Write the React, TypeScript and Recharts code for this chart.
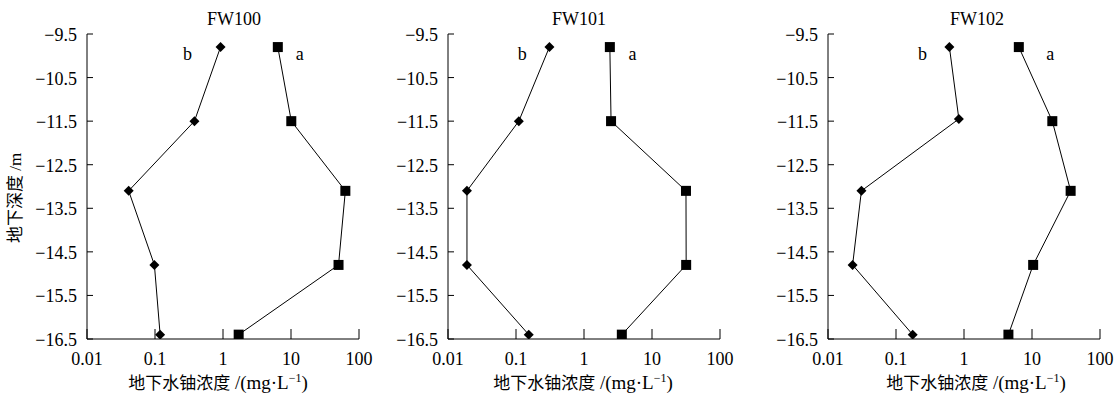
import React from 'react';
import { ScatterChart, Scatter, XAxis, YAxis } from 'recharts';

// ---- data ----
const panelTitles = ['FW100', 'FW101', 'FW102'];
const depthsA = [-9.8, -11.5, -13.1, -14.8, -16.4];
const depthsB = [
  [-9.8, -11.5, -13.1, -14.8, -16.4],
  [-9.8, -11.5, -13.1, -14.8, -16.4],
  [-9.8, -11.45, -13.1, -14.8, -16.4],
];
const seriesA = [
  [6.4, 10.1, 63, 50, 1.7],
  [2.4, 2.5, 31.6, 31.8, 3.6],
  [6.4, 19.9, 37, 10.4, 4.5],
];
const seriesB = [
  [0.92, 0.38, 0.041, 0.098, 0.119],
  [0.31, 0.11, 0.019, 0.019, 0.154],
  [0.61, 0.84, 0.031, 0.023, 0.176],
];
const labelAX = [13.4, 5.15, 18.6];
const labelBX = [0.3, 0.124, 0.246];
const labelY = -10.1;
const xTicks = [0.01, 0.1, 1, 10, 100];
const xTickLabels = ['0.01', '0.1', '1', '10', '100'];
const yTicks = [-9.5, -10.5, -11.5, -12.5, -13.5, -14.5, -15.5, -16.5];

const FONT = "'Liberation Serif', 'Times New Roman', 'Noto Sans CJK SC', serif";
const plotLefts = [87, 448, 828];
const titleX = [234, 579, 977];
const xLabelX = [218, 583, 976];
const FS = 18;

const Square = (p: any) => (
  <rect x={p.cx - 5} y={p.cy - 5} width={10} height={10} fill="#000" />
);
const Diamond = (p: any) => (
  <polygon
    points={`${p.cx},${p.cy - 5} ${p.cx + 5},${p.cy} ${p.cx},${p.cy + 5} ${p.cx - 5},${p.cy}`}
    fill="#000"
  />
);
const LabelShape = (p: any) => (
  <text x={p.cx} y={p.cy} textAnchor="middle" fontSize={FS} fontFamily={FONT} fill="#000">
    {p.payload.t}
  </text>
);

const Y_MARGIN = 10;
const X_MARGIN = 13;

const YTick = (p: any) => {
  const v: number = p.payload.value;
  const label = v.toFixed(1).replace('-', '\u2212');
  const ax = p.x + Y_MARGIN;
  return (
    <g>
      <line x1={ax} x2={ax + 6} y1={p.y} y2={p.y} stroke="#000" strokeWidth={1} />
      <text x={p.x} y={p.y + 7} textAnchor="end" fontSize={FS} fontFamily={FONT} fill="#000">
        {label}
      </text>
    </g>
  );
};

const XTick = (p: any) => {
  const v: number = p.payload.value;
  const idx = xTicks.indexOf(v);
  const label = idx >= 0 ? xTickLabels[idx] : String(v);
  const ay = p.y - X_MARGIN;
  return (
    <g>
      <line x1={p.x} x2={p.x} y1={ay} y2={ay - 10} stroke="#000" strokeWidth={1} />
      <text x={p.x} y={p.y + 13} textAnchor="middle" fontSize={FS} fontFamily={FONT} fill="#000">
        {label}
      </text>
    </g>
  );
};

function Panel({ i }: { i: number }) {
  const dataA = seriesA[i].map((x, k) => ({ x, y: depthsA[k] }));
  const dataB = seriesB[i].map((x, k) => ({ x, y: depthsB[i][k] }));
  const labels = [
    { x: labelBX[i], y: labelY, t: 'b' },
    { x: labelAX[i], y: labelY, t: 'a' },
  ];
  return (
    <div style={{ position: 'absolute', left: plotLefts[i] - 87, top: 0 }}>
      <ScatterChart
        width={380}
        height={396}
        margin={{ top: 34, right: 21, bottom: 27, left: 27 }}
      >
        <XAxis
          dataKey="x"
          type="number"
          scale="log"
          domain={[0.01, 100]}
          ticks={xTicks}
          allowDataOverflow
          interval={0}
          height={30}
          tickSize={0}
          tickMargin={X_MARGIN}
          tickLine={false}
          axisLine={{ stroke: '#000', strokeWidth: 1 }}
          tick={XTick}
        />
        <YAxis
          dataKey="y"
          type="number"
          domain={[-16.5, -9.5]}
          ticks={yTicks}
          allowDataOverflow
          interval={0}
          width={60}
          tickSize={0}
          tickMargin={Y_MARGIN}
          tickLine={false}
          axisLine={{ stroke: '#000', strokeWidth: 1 }}
          tick={YTick}
        />
        <Scatter
          data={dataA}
          line={{ stroke: '#000', strokeWidth: 1 }}
          lineType="joint"
          shape={Square}
          isAnimationActive={false}
        />
        <Scatter
          data={dataB}
          line={{ stroke: '#000', strokeWidth: 1 }}
          lineType="joint"
          shape={Diamond}
          isAnimationActive={false}
        />
        <Scatter data={labels} shape={LabelShape} isAnimationActive={false} />
      </ScatterChart>
    </div>
  );
}

export default function App() {
  return (
    <div
      style={{
        position: 'absolute',
        left: 0,
        top: 0,
        width: 1120,
        height: 396,
        background: '#fff',
        overflow: 'hidden',
        fontFamily: FONT,
      }}
    >
      {[0, 1, 2].map((i) => (
        <Panel key={i} i={i} />
      ))}
      <svg
        width={1120}
        height={396}
        style={{ position: 'absolute', left: 0, top: 0, pointerEvents: 'none' }}
      >
        {panelTitles.map((t, i) => (
          <text key={t} x={titleX[i]} y={25} textAnchor="middle" fontSize={FS} fontFamily={FONT} fill="#000">
            {t}
          </text>
        ))}
        {xLabelX.map((cx, i) => (
          <text key={i} x={cx} y={389} textAnchor="middle" fontSize={17} fontFamily={FONT} fill="#000">
            地下水铀浓度
            <tspan fontSize={19}> /(mg·L</tspan>
            <tspan dy={-7} fontSize={12}>−1</tspan>
            <tspan dy={7} fontSize={19}>)</tspan>
          </text>
        ))}
        <text
          x={0}
          y={0}
          transform="translate(21,198) rotate(-90)"
          textAnchor="middle"
          fontSize={17}
          fontFamily={FONT}
          fill="#000"
        >
          地下深度 /m
        </text>
      </svg>
    </div>
  );
}
